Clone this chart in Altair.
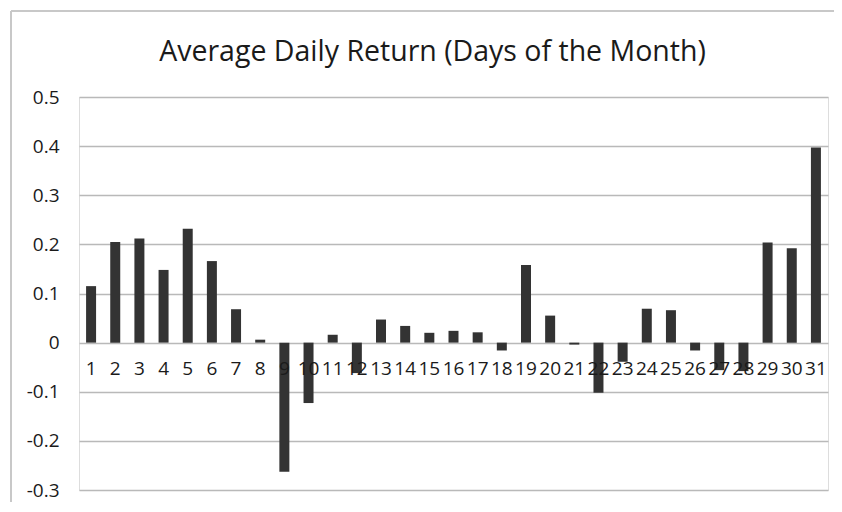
import altair as alt
import pandas as pd

days = list(range(1, 32))
returns = [0.115, 0.205, 0.212, 0.148, 0.232, 0.166, 0.068, 0.006, -0.263, -0.123,
           0.016, -0.062, 0.047, 0.034, 0.020, 0.024, 0.021, -0.016, 0.158, 0.055,
           -0.004, -0.102, -0.039, 0.069, 0.066, -0.016, -0.056, -0.058, 0.204, 0.192,
           0.397]
y_ticks = [-0.3, -0.2, -0.1, 0, 0.1, 0.2, 0.3, 0.4, 0.5]

df = pd.DataFrame({"day": days, "ret": returns})

W, H = 749, 393
FONT = "Open Sans"
one = pd.DataFrame({"k": [0]})

top_line = alt.Chart(one).mark_rule(color="#c8c8c8", strokeWidth=2, clip=False).encode(
    x=alt.value(-68), x2=alt.value(W + 6), y=alt.value(-86)
)
left_line = alt.Chart(one).mark_rule(color="#c8c8c8", strokeWidth=2, clip=False).encode(
    x=alt.value(-68), y=alt.value(-86), y2=alt.value(H + 12)
)

bars = alt.Chart(df).mark_bar(size=10, color="#333333").encode(
    x=alt.X("day:O", sort="ascending",
            scale=alt.Scale(paddingInner=0, paddingOuter=0),
            axis=alt.Axis(title=None, labelAngle=0, domain=False, ticks=False,
                          grid=False, offset=-147.5, labelPadding=17, zindex=1,
                          labelFont=FONT, labelFontSize=19, labelColor="#1a1a1a")),
    y=alt.Y("ret:Q", scale=alt.Scale(domain=[-0.3, 0.5], nice=False, zero=False),
            axis=alt.Axis(title=None, values=y_ticks, domain=False, ticks=False,
                          tickSize=0, labelPadding=20, grid=True,
                          gridColor="#b9b9b9", gridWidth=1.5,
                          labelExpr="toString(round(datum.value*10)/10)",
                          labelFont=FONT, labelFontSize=19, labelColor="#1a1a1a")),
)

chart = alt.layer(top_line, left_line, bars).properties(
    width=W, height=H,
    title=alt.TitleParams("Average Daily Return (Days of the Month)", font=FONT,
                          fontSize=28.5, fontWeight="normal", color="#1a1a1a",
                          anchor="middle", frame="group", dx=-21, offset=-56),
    autosize=alt.AutoSizeParams(type="none"),
    padding={"left": 71, "top": 89, "right": 6, "bottom": 12},
).configure_view(
    strokeWidth=0, stroke="transparent", fill="white"
).configure_axisX(grid=False, domain=False).configure(background="white")

chart.save("out.html", embed_options={"renderer": "svg", "actions": False})
